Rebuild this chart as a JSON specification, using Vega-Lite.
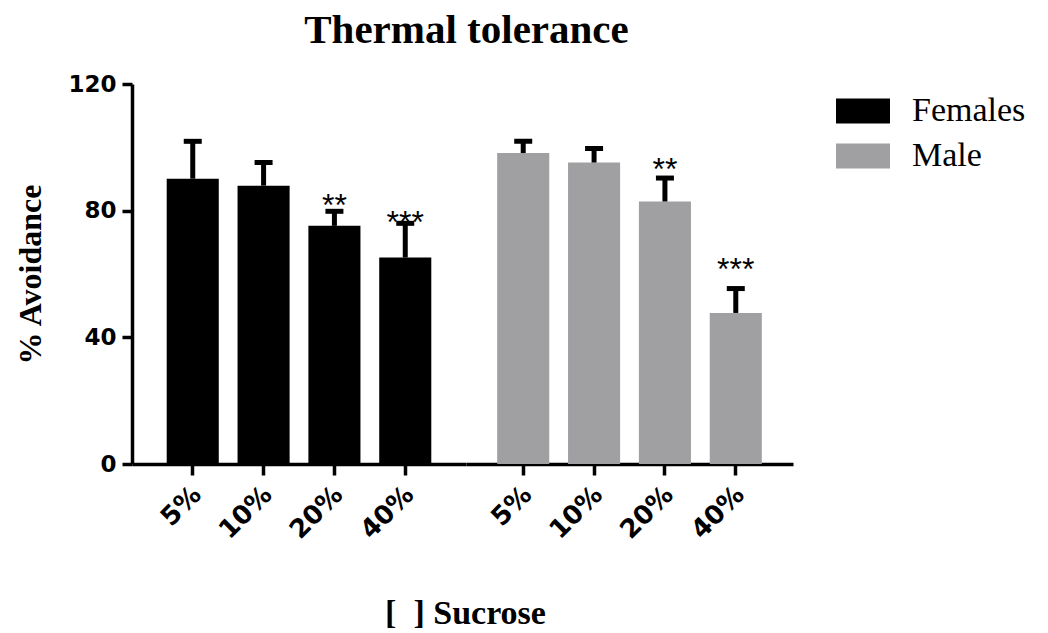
{
  "$schema": "https://vega.github.io/schema/vega-lite/v6.json",
  "padding": {"left": 14, "top": 10, "right": 5, "bottom": 30},
  "background": "white",
  "title": {
    "text": "Thermal tolerance",
    "font": "Liberation Serif",
    "fontSize": 41,
    "fontWeight": "bold",
    "color": "black",
    "anchor": "middle",
    "dx": -54,
    "offset": 21
  },
  "data": {
    "values": [
      {"sex": "Females", "conc": "5%", "mean": 90.1, "upper": 101.9, "sig": "", "sig_y": 101.9},
      {"sex": "Females", "conc": "10%", "mean": 87.9, "upper": 95.2, "sig": "", "sig_y": 95.2},
      {"sex": "Females", "conc": "20%", "mean": 75.2, "upper": 79.8, "sig": "**", "sig_y": 84.1},
      {"sex": "Females", "conc": "40%", "mean": 65.2, "upper": 76.0, "sig": "***", "sig_y": 78.7},
      {"sex": "Male", "conc": "5%", "mean": 98.2, "upper": 101.9, "sig": "", "sig_y": 101.9},
      {"sex": "Male", "conc": "10%", "mean": 95.2, "upper": 99.6, "sig": "", "sig_y": 99.6},
      {"sex": "Male", "conc": "20%", "mean": 82.9, "upper": 90.3, "sig": "**", "sig_y": 95.3},
      {"sex": "Male", "conc": "40%", "mean": 47.7, "upper": 55.4, "sig": "***", "sig_y": 63.7}
    ]
  },
  "spacing": 0,
  "bounds": "flush",
  "resolve": {"scale": {"color": "shared", "y": "shared"}},
  "hconcat": [
    {
      "width": 334,
      "height": 380,
      "transform": [{"filter": "datum.sex === 'Females'"}],
      "encoding": {
        "x": {
          "field": "conc",
          "type": "nominal",
          "sort": ["5%", "10%", "20%", "40%"],
          "scale": {"paddingInner": 0.265, "paddingOuter": 0.49},
          "axis": {
            "title": "[\u00a0\u00a0] Sucrose",
            "titleFont": "Liberation Serif",
            "titleFontSize": 34,
            "titleFontWeight": "bold",
            "titleColor": "black",
            "titleX": 333,
            "titleY": 159,
            "titleAlign": "center",
            "titleBaseline": "alphabetic",
            "labelAngle": -45,
            "labelFont": "DejaVu Sans",
            "labelFontSize": 26,
            "labelFontWeight": "bold",
            "labelColor": "black",
            "labelPadding": 6,
            "labelOffset": -5,
            "tickSize": 11,
            "tickWidth": 3.5,
            "tickColor": "black",
            "domainWidth": 3.5,
            "domainColor": "black"
          }
        }
      },
      "layer": [
        {
          "mark": {"type": "bar"},
          "encoding": {
            "y": {
              "field": "mean",
              "type": "quantitative",
              "scale": {"domain": [0, 120], "nice": false},
              "axis": {
                "values": [0, 40, 80, 120],
                "title": "% Avoidance",
                "titleFont": "Liberation Serif",
                "titleFontSize": 32,
                "titleFontWeight": "bold",
                "titleColor": "black",
                "titlePadding": 20,
                "labelFont": "DejaVu Sans",
                "labelFontSize": 23,
                "labelFontWeight": "bold",
                "labelColor": "black",
                "labelPadding": 6,
                "tickSize": 10,
                "tickWidth": 3.5,
                "tickColor": "black",
                "domainWidth": 3.5,
                "domainColor": "black",
                "grid": false
              }
            },
            "color": {
              "field": "sex",
              "type": "nominal",
              "scale": {"domain": ["Females", "Male"], "range": ["#000000", "#a0a0a3"]},
              "legend": {
                "title": null,
                "orient": "right",
                "offset": 43,
                "symbolType": "M-1,-0.463H1V0.463H-1Z",
                "symbolSize": 2916,
                "symbolStrokeWidth": 0,
                "symbolOpacity": 1,
                "labelFont": "Liberation Serif",
                "labelFontSize": 34,
                "labelColor": "black",
                "labelOffset": 22,
                "rowPadding": 1,
                "padding": 0
              }
            }
          }
        },
        {
          "mark": {"type": "rule", "strokeWidth": 5, "color": "black"},
          "encoding": {
            "y": {"field": "mean", "type": "quantitative"},
            "y2": {"field": "upper"}
          }
        },
        {
          "mark": {"type": "tick", "size": 18, "thickness": 5, "color": "black", "opacity": 1},
          "encoding": {
            "y": {"field": "upper", "type": "quantitative"}
          }
        },
        {
          "mark": {"type": "text", "font": "Liberation Sans", "fontSize": 32, "color": "black", "align": "center", "baseline": "alphabetic", "dy": 18},
          "encoding": {
            "y": {"field": "sig_y", "type": "quantitative"},
            "text": {"field": "sig"}
          }
        }
      ]
    },
    {
      "width": 327,
      "height": 380,
      "transform": [{"filter": "datum.sex === 'Male'"}],
      "encoding": {
        "x": {
          "field": "conc",
          "type": "nominal",
          "sort": ["5%", "10%", "20%", "40%"],
          "scale": {"paddingInner": 0.265, "paddingOuter": 0.44},
          "axis": {
            "title": null,
            "labelAngle": -45,
            "labelFont": "DejaVu Sans",
            "labelFontSize": 26,
            "labelFontWeight": "bold",
            "labelColor": "black",
            "labelPadding": 6,
            "labelOffset": -5,
            "tickSize": 11,
            "tickWidth": 3.5,
            "tickColor": "black",
            "domainWidth": 3.5,
            "domainColor": "black"
          }
        }
      },
      "layer": [
        {
          "mark": {"type": "bar"},
          "encoding": {
            "y": {
              "field": "mean",
              "type": "quantitative",
              "scale": {"domain": [0, 120], "nice": false},
              "axis": null
            },
            "color": {
              "field": "sex",
              "type": "nominal",
              "scale": {"domain": ["Females", "Male"], "range": ["#000000", "#a0a0a3"]}
            }
          }
        },
        {
          "mark": {"type": "rule", "strokeWidth": 5, "color": "black"},
          "encoding": {
            "y": {"field": "mean", "type": "quantitative"},
            "y2": {"field": "upper"}
          }
        },
        {
          "mark": {"type": "tick", "size": 18, "thickness": 5, "color": "black", "opacity": 1},
          "encoding": {
            "y": {"field": "upper", "type": "quantitative"}
          }
        },
        {
          "mark": {"type": "text", "font": "Liberation Sans", "fontSize": 32, "color": "black", "align": "center", "baseline": "alphabetic", "dy": 18},
          "encoding": {
            "y": {"field": "sig_y", "type": "quantitative"},
            "text": {"field": "sig"}
          }
        }
      ]
    }
  ],
  "config": {
    "view": {"stroke": null},
    "axis": {"grid": false}
  }
}
